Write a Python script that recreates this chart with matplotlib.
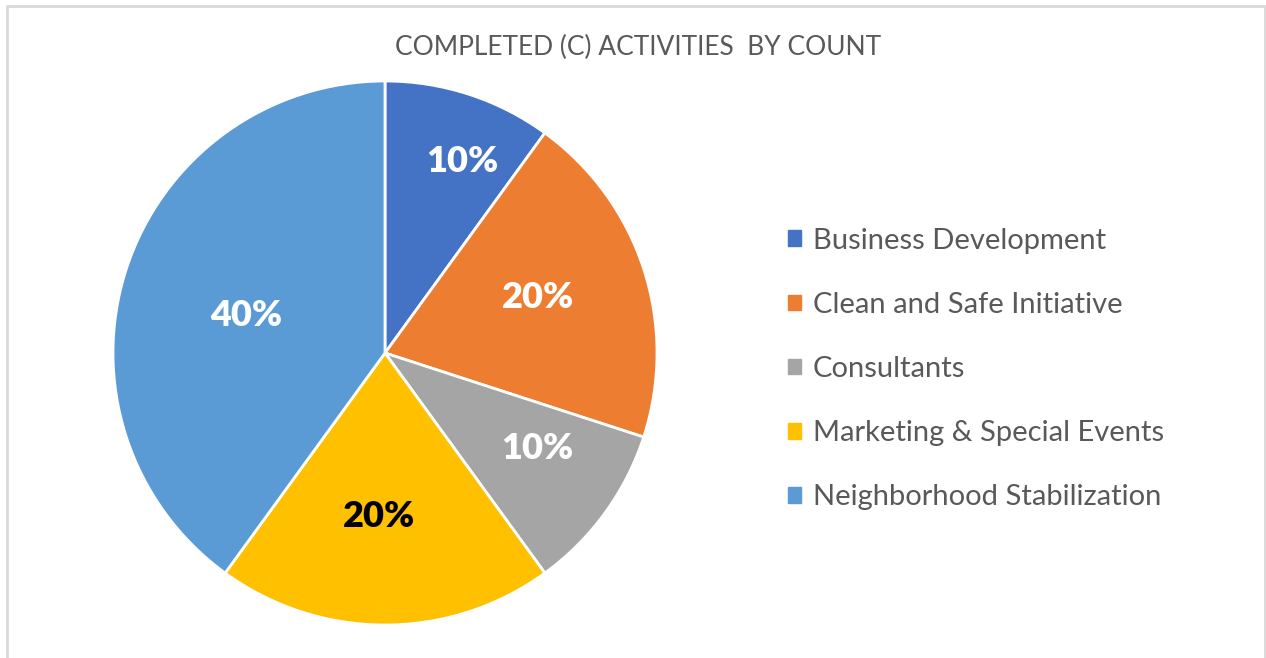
import matplotlib.pyplot as plt
import matplotlib.patches as mpatches
import numpy as np

categories = ['Business Development', 'Clean and Safe Initiative', 'Consultants',
              'Marketing & Special Events', 'Neighborhood Stabilization']
values = [10, 20, 10, 20, 40]
colors = ['#4472C4', '#ED7D31', '#A5A5A5', '#FFC000', '#5B9BD5']
label_colors = ['white', 'white', 'white', 'black', 'white']
label_radius = [0.76, 0.6, 0.66, 0.6, 0.53]
label_shift = [-4, 2, 4, -2, 3]  # degrees, excel's "best fit" nudges

plt.rcParams['font.family'] = ['Lato', 'DejaVu Sans']

W, H = 1266, 658
fig = plt.figure(figsize=(W / 100, H / 100), dpi=100)

# frame like the excel chart area
frame = fig.add_axes([0, 0, 1, 1])
frame.set_xlim(0, W)
frame.set_ylim(H, 0)
frame.axis('off')
frame.plot([7, 7, 1265, 1265], [H, 6, 6, H], color='#D9D9D9', lw=2)

cx, cy, r = 385, 353, 272
ax = fig.add_axes([(cx - r) / W, (H - cy - r) / H, 2 * r / W, 2 * r / H])
wedges, _ = ax.pie(values, colors=colors, startangle=90, counterclock=False,
                   wedgeprops=dict(edgecolor='white', linewidth=2))
ax.set_xlim(-1, 1)
ax.set_ylim(-1, 1)

total = sum(values)
for w, v, c, rr, sh in zip(wedges, values, label_colors, label_radius, label_shift):
    ang = np.deg2rad((w.theta1 + w.theta2) / 2 + sh)
    ax.text(rr * np.cos(ang), rr * np.sin(ang), f'{v / total:.0%}',
            ha='center', va='center', color=c, fontsize=26, fontweight='heavy')

fig.text(638 / W, 1 - 47 / H, 'COMPLETED (C) ACTIVITIES  BY COUNT',
         ha='center', va='center', fontsize=19, color='#595959')

handles = [mpatches.Patch(color=c) for c in colors]
fig.legend(handles, categories, loc='center left',
           bbox_to_anchor=(788 / W, 1 - 369 / H), frameon=False,
           fontsize=21, labelcolor='#595959', handlelength=0.45, handleheight=0.45,
           handletextpad=0.4, labelspacing=1.31, borderpad=0, borderaxespad=0)

fig.savefig('out.png', dpi=100)
